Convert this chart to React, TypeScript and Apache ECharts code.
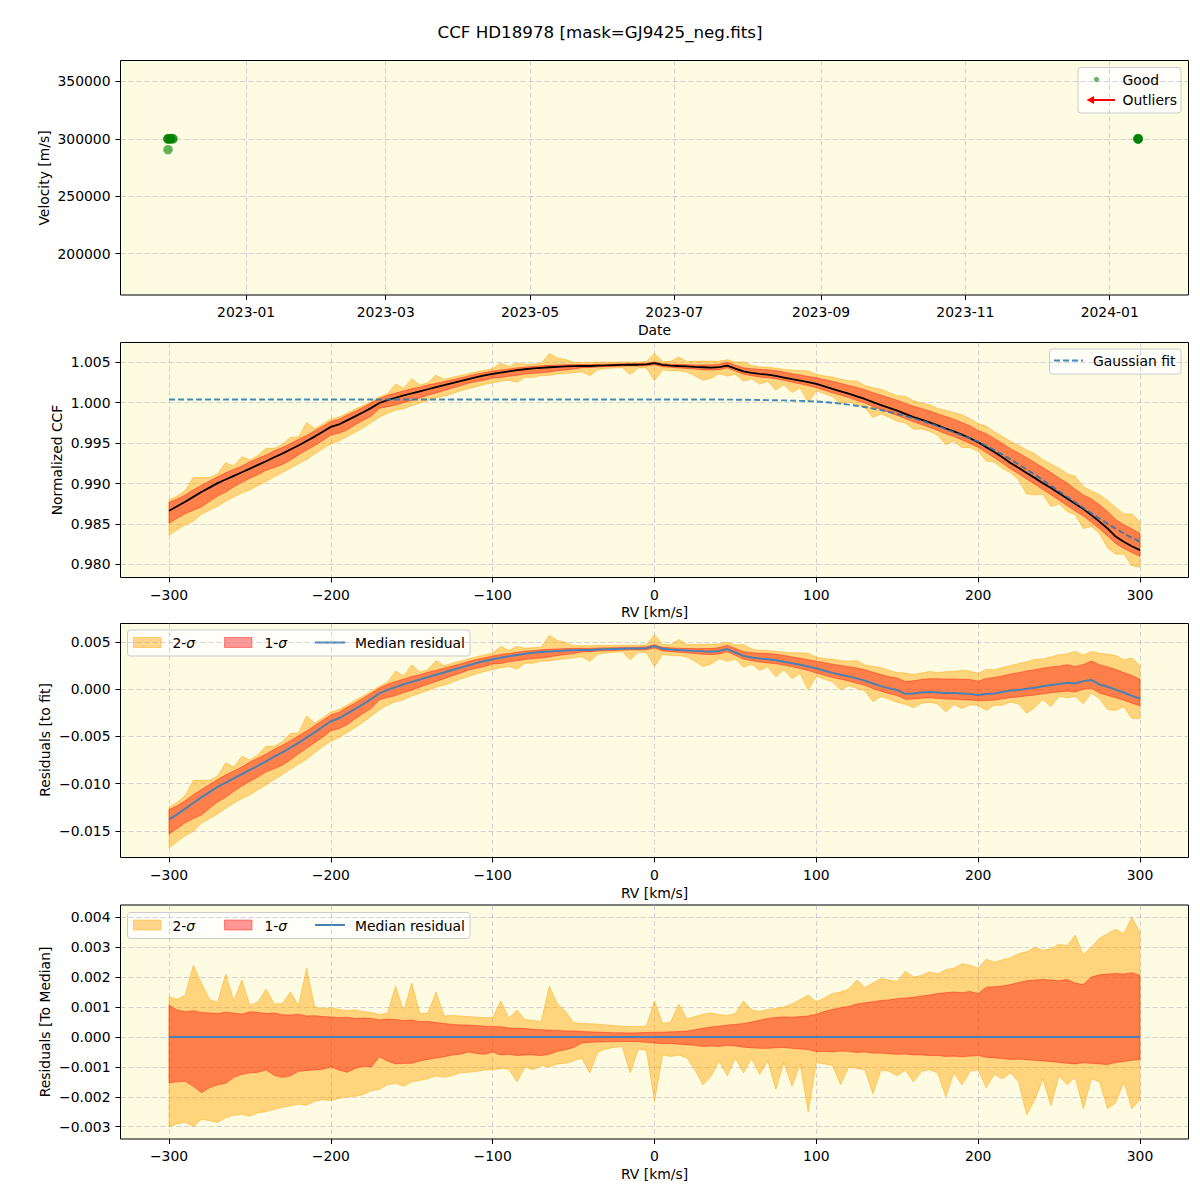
import React, { useEffect, useRef } from 'react';
import * as echarts from 'echarts';

const FONT = "'DejaVu Sans', 'Liberation Sans', sans-serif";
const MINUS = '\u2212';
const FS = 13.9;

// ---------- Panel 1: CCF radial velocities per observation ----------
const goodDates = [
  '2022-11-29', '2022-11-29', '2022-11-29', '2022-11-30', '2022-11-30', '2022-11-30',
  '2022-12-01', '2022-12-01', '2022-11-29',
  '2024-01-13', '2024-01-13', '2024-01-13', '2024-01-13',
];
const goodVelocity = [
  300100, 299800, 300000, 300300, 299900, 300100,
  300200, 299900, 290500,
  300000, 299700, 300200, 300100,
];
const dateTickLabels = ['2023-01', '2023-03', '2023-05', '2023-07', '2023-09', '2023-11', '2024-01'];
const velocityTicks = [200000, 250000, 300000, 350000];

// ---------- Panels 2-4: CCF profile versus RV ----------
const rvTicks = [-300, -200, -100, 0, 100, 200, 300];
const ccfTicks = [0.98, 0.985, 0.99, 0.995, 1.0, 1.005];
const fitResTicks = [-0.015, -0.01, -0.005, 0.0, 0.005];
const medResTicks = [-0.003, -0.002, -0.001, 0.0, 0.001, 0.002, 0.003, 0.004];

// RV sampling [km/s]
const rv = [
  -300, -295, -290, -285, -280, -275, -270, -265, -260, -255,
  -250, -245, -240, -235, -230, -225, -220, -215, -210, -205,
  -200, -195, -190, -185, -180, -175, -170, -165, -160, -155,
  -150, -145, -140, -135, -130, -125, -120, -115, -110, -105,
  -100, -95, -90, -85, -80, -75, -70, -65, -60, -55,
  -50, -45, -40, -35, -30, -25, -20, -15, -10, -5,
  0, 5, 10, 15, 20, 25, 30, 35, 40, 45,
  50, 55, 60, 65, 70, 75, 80, 85, 90, 95,
  100, 105, 110, 115, 120, 125, 130, 135, 140, 145,
  150, 155, 160, 165, 170, 175, 180, 185, 190, 195,
  200, 205, 210, 215, 220, 225, 230, 235, 240, 245,
  250, 255, 260, 265, 270, 275, 280, 285, 290, 295,
  300,
];

// median normalized CCF
const ccfMedian = [
  0.98663, 0.9872, 0.98775, 0.98835, 0.98895, 0.9895, 0.99005, 0.9905, 0.99095, 0.9914,
  0.99185, 0.9923, 0.99275, 0.99325, 0.9937, 0.9942, 0.9947, 0.99525, 0.9958, 0.9964,
  0.997, 0.9973, 0.9978, 0.9983, 0.9988, 0.99935, 0.99995, 1.0003, 1.0006, 1.0009,
  1.00115, 1.0014, 1.00165, 1.0019, 1.00215, 1.0024, 1.00265, 1.0029, 1.00315, 1.00335,
  1.00355, 1.0037, 1.00385, 1.004, 1.00412, 1.00422, 1.0043, 1.00437, 1.00442, 1.00447,
  1.0045, 1.00452, 1.00452, 1.00458, 1.0046, 1.00463, 1.00466, 1.00468, 1.00468, 1.00472,
  1.00487, 1.00465, 1.00458, 1.00452, 1.00448, 1.00442, 1.00437, 1.00432, 1.00438, 1.00458,
  1.0042, 1.00385, 1.00368, 1.00355, 1.00345, 1.0033, 1.0031, 1.0029, 1.00272, 1.00252,
  1.00231, 1.002, 1.0017, 1.0014, 1.0011, 1.00078, 1.00045, 1.00005, 0.9997, 0.99935,
  0.999, 0.9986, 0.99822, 0.9979, 0.99755, 0.99718, 0.9968, 0.99645, 0.99605, 0.9956,
  0.99509, 0.9945, 0.9939, 0.99325, 0.99255, 0.99195, 0.9913, 0.9907, 0.99005, 0.98945,
  0.9888, 0.98815, 0.9875, 0.98684, 0.9861, 0.9853, 0.98445, 0.98345, 0.9828, 0.98225,
  0.98177,
];

// Gaussian fit to the median CCF
const gaussFit = [
  1.00038, 1.00038, 1.00038, 1.00038, 1.00038, 1.00038, 1.00038, 1.00038, 1.00038, 1.00038,
  1.00038, 1.00038, 1.00038, 1.00038, 1.00038, 1.00038, 1.00038, 1.00038, 1.00038, 1.00038,
  1.00038, 1.00038, 1.00038, 1.00038, 1.00038, 1.00038, 1.00038, 1.00038, 1.00038, 1.00038,
  1.00038, 1.00038, 1.00038, 1.00038, 1.00038, 1.00038, 1.00038, 1.00038, 1.00038, 1.00038,
  1.00038, 1.00038, 1.00038, 1.00038, 1.00038, 1.00038, 1.00038, 1.00038, 1.00038, 1.00038,
  1.00038, 1.00038, 1.00038, 1.00038, 1.00038, 1.00038, 1.00038, 1.00038, 1.00038, 1.00038,
  1.00038, 1.00038, 1.00038, 1.00038, 1.00038, 1.00038, 1.00038, 1.00038, 1.00038, 1.00037,
  1.00036, 1.00035, 1.00034, 1.00033, 1.00031, 1.00029, 1.00027, 1.00024, 1.00021, 1.00018,
  1.00014, 1.00007, 0.99998, 0.99987, 0.99975, 0.99961, 0.99945, 0.99927, 0.99907, 0.99885,
  0.9986, 0.99834, 0.99806, 0.99776, 0.99744, 0.9971, 0.99673, 0.99635, 0.99596, 0.99557,
  0.99517, 0.99467, 0.99413, 0.99357, 0.99298, 0.99237, 0.99174, 0.99109, 0.99042, 0.98974,
  0.98905, 0.98836, 0.98767, 0.98699, 0.98632, 0.98567, 0.98504, 0.98443, 0.98385, 0.9833,
  0.9828,
];

// median residual to the fit
const residMedian = [
  -0.0138, -0.01325, -0.01265, -0.01205, -0.01145, -0.0109, -0.01035, -0.0099, -0.00945, -0.009,
  -0.00855, -0.0081, -0.00765, -0.00715, -0.00668, -0.00618, -0.00568, -0.00513, -0.00458, -0.00398,
  -0.0034, -0.00308, -0.00258, -0.00208, -0.00158, -0.00103, -0.00045, -0.00008, 0.00022, 0.00052,
  0.00077, 0.00102, 0.00127, 0.00152, 0.00177, 0.00202, 0.00227, 0.00252, 0.00277, 0.00297,
  0.00317, 0.00332, 0.00347, 0.00362, 0.00374, 0.00384, 0.00392, 0.00399, 0.00404, 0.00409,
  0.00412, 0.00414, 0.00414, 0.0042, 0.00422, 0.00425, 0.00428, 0.0043, 0.0043, 0.00434,
  0.00455, 0.00427, 0.0042, 0.00415, 0.0041, 0.00405, 0.004, 0.00396, 0.00404, 0.00424,
  0.00388, 0.00352, 0.00336, 0.00325, 0.00316, 0.00305, 0.0029, 0.00275, 0.00258, 0.0024,
  0.0022, 0.00195, 0.00172, 0.00153, 0.00135, 0.00114, 0.0009, 0.0006, 0.00032, 0.00008,
  -0.0001, -0.0005, -0.00045, -0.00035, -0.0003, -0.00035, -0.0004, -0.00042, -0.00045, -0.0005,
  -0.00062, -0.00052, -0.00045, -0.0003, -0.00015, -0.00008, 0.00005, 0.00015, 0.0003, 0.00045,
  0.00055, 0.00067, 0.0006, 0.00085, 0.00098, 0.0005, 0.00025, -0.00005, -0.00035, -0.0007,
  -0.001,
];

// spread of the individual CCFs around the median
const sig1Upper = [
  0.00106, 0.0009, 0.00084, 0.00088, 0.00082, 0.0008, 0.00078, 0.00083, 0.0008, 0.00076,
  0.00084, 0.00082, 0.00078, 0.0008, 0.00074, 0.00073, 0.00076, 0.0007, 0.00071, 0.00068,
  0.00067, 0.00064, 0.00066, 0.00062, 0.00063, 0.00062, 0.00057, 0.0006, 0.00058, 0.00055,
  0.00057, 0.00051, 0.00052, 0.00048, 0.00045, 0.00042, 0.0004, 0.0004, 0.00038, 0.00036,
  0.00035, 0.00034, 0.0003, 0.00029, 0.00028, 0.00025, 0.00024, 0.00023, 0.00022, 0.0002,
  0.0002, 0.00018, 0.00017, 0.00016, 0.00015, 0.00014, 0.00014, 0.00013, 0.00014, 0.00015,
  0.00016, 0.00016, 0.00017, 0.00018, 0.0002, 0.00024, 0.00029, 0.00033, 0.00036, 0.0004,
  0.00042, 0.00045, 0.0005, 0.00056, 0.00062, 0.00065, 0.00067, 0.00066, 0.00068, 0.0007,
  0.00076, 0.00085, 0.00092, 0.00098, 0.00102, 0.0011, 0.00114, 0.00118, 0.00122, 0.00124,
  0.00128, 0.0013, 0.00133, 0.00137, 0.0014, 0.00145, 0.00148, 0.0015, 0.00148, 0.00152,
  0.00145, 0.00166, 0.00168, 0.0017, 0.00175, 0.00182, 0.00188, 0.0019, 0.00192, 0.0019,
  0.00188, 0.00192, 0.0018, 0.00175, 0.002, 0.00208, 0.0021, 0.00212, 0.0021, 0.00215,
  0.00205,
];
const sig1Lower = [
  -0.00153, -0.0015, -0.00148, -0.00165, -0.00186, -0.0017, -0.0016, -0.00155, -0.00135, -0.00125,
  -0.0012, -0.00118, -0.0011, -0.00128, -0.00135, -0.0013, -0.00115, -0.00112, -0.0011, -0.00108,
  -0.001, -0.0011, -0.00118, -0.00105, -0.00098, -0.001, -0.00066, -0.0008, -0.0009, -0.00088,
  -0.00088, -0.0008, -0.00075, -0.0007, -0.00066, -0.0006, -0.00058, -0.0005, -0.00055, -0.00058,
  -0.0005, -0.0006, -0.00058, -0.00062, -0.0006, -0.0006, -0.00062, -0.00058, -0.00048, -0.00043,
  -0.00035, -0.0002, -0.00018, -0.00017, -0.00016, -0.00016, -0.00015, -0.00015, -0.00016, -0.00018,
  -0.0002, -0.00022, -0.00022, -0.00024, -0.00026, -0.00028, -0.00032, -0.0003, -0.00032, -0.00028,
  -0.0003, -0.00034, -0.00036, -0.00038, -0.00038, -0.00036, -0.00035, -0.00038, -0.0004, -0.00042,
  -0.00049, -0.00048, -0.0005, -0.00047, -0.00048, -0.00052, -0.0005, -0.00054, -0.00054, -0.00056,
  -0.00058, -0.00057, -0.0006, -0.0006, -0.00062, -0.00062, -0.00065, -0.00064, -0.00066, -0.00064,
  -0.00062, -0.00068, -0.0007, -0.00072, -0.00075, -0.00074, -0.00076, -0.00078, -0.0008, -0.00082,
  -0.00085, -0.00088, -0.0009, -0.00086, -0.00088, -0.0009, -0.00092, -0.00085, -0.00082, -0.00078,
  -0.00075,
];
const sig2Upper = [
  0.00134, 0.00125, 0.0014, 0.0024, 0.0018, 0.00125, 0.00115, 0.0021, 0.0012, 0.0019,
  0.00105, 0.00118, 0.0016, 0.0011, 0.00112, 0.0015, 0.00105, 0.0023, 0.001, 0.00095,
  0.00098, 0.00092, 0.00088, 0.0009, 0.00085, 0.00082, 0.00075, 0.0008, 0.0017, 0.00085,
  0.0018, 0.00078, 0.0008, 0.0015, 0.0007, 0.00072, 0.0007, 0.00068, 0.00066, 0.00064,
  0.00065, 0.0012, 0.00062, 0.0009, 0.00058, 0.00055, 0.00052, 0.0017, 0.0011, 0.00085,
  0.00048, 0.00045, 0.00044, 0.00043, 0.0004, 0.00038, 0.00036, 0.00035, 0.00035, 0.00036,
  0.0012, 0.00045, 0.0005, 0.0011, 0.0006, 0.00068, 0.00076, 0.0008, 0.00074, 0.00072,
  0.00078, 0.0012, 0.0009, 0.00085, 0.00092, 0.00095, 0.001, 0.0011, 0.00125, 0.0014,
  0.00118, 0.0013, 0.00145, 0.0015, 0.0016, 0.0019, 0.00165, 0.0018, 0.00195, 0.0019,
  0.00185, 0.0022, 0.002, 0.00205, 0.00218, 0.0021, 0.00225, 0.0023, 0.00245, 0.0024,
  0.0023, 0.0026, 0.0025, 0.00258, 0.00265, 0.00278, 0.00285, 0.003, 0.0029, 0.00295,
  0.0031, 0.00305, 0.0034, 0.00275, 0.003, 0.0033, 0.00345, 0.0036, 0.00345, 0.004,
  0.0035,
];
const sig2Lower = [
  -0.003, -0.0029, -0.00285, -0.003, -0.00275, -0.0028, -0.00286, -0.0027, -0.00262, -0.00258,
  -0.00265, -0.00253, -0.0025, -0.00242, -0.00235, -0.0023, -0.00225, -0.00228, -0.00215, -0.0021,
  -0.00212, -0.00205, -0.002, -0.00198, -0.00192, -0.0018, -0.00175, -0.0016, -0.00155, -0.00165,
  -0.0015, -0.00145, -0.0014, -0.0013, -0.00135, -0.0013, -0.0012, -0.00118, -0.00115, -0.0011,
  -0.0011, -0.00105, -0.00108, -0.0015, -0.001, -0.0011, -0.00095, -0.001, -0.0009, -0.00088,
  -0.0008, -0.0007, -0.0012, -0.0005, -0.0004, -0.00035, -0.00032, -0.0012, -0.0004, -0.00045,
  -0.00215, -0.0006, -0.00065, -0.0006, -0.0007, -0.0011, -0.0016, -0.0013, -0.0008, -0.0013,
  -0.0007, -0.0012, -0.00072, -0.00125, -0.0008, -0.00175, -0.00085, -0.00165, -0.0009, -0.0025,
  -0.00085, -0.0009, -0.00095, -0.0016, -0.001, -0.00105, -0.0011, -0.0019, -0.0011, -0.00115,
  -0.0013, -0.0011, -0.0015, -0.00115, -0.0011, -0.0012, -0.002, -0.0012, -0.0016, -0.00115,
  -0.0011, -0.0017, -0.00125, -0.0014, -0.0012, -0.0015, -0.0026, -0.0021, -0.0014, -0.0023,
  -0.0013, -0.0016, -0.00135, -0.0024, -0.0014, -0.0015, -0.0024, -0.0022, -0.0015, -0.0024,
  -0.0021,
];

// ---------- styling ----------
const BG = '#fdfbe2';
const GRID_LINE = 'rgba(165,165,185,0.55)';
const ORANGE_FILL = 'rgba(255,165,0,0.45)';
const RED_FILL = 'rgba(255,0,0,0.4)';
const STEEL = '#4682b4';
const FIT_BLUE = 'rgba(31,119,180,0.85)';

const LEFT = 120.5;
const WIDTH = 1068;
const PANELS = [
  { top: 60.5, height: 234.5 },
  { top: 342.5, height: 235 },
  { top: 623.5, height: 234 },
  { top: 905, height: 234 },
];
const CENTER_X = LEFT + WIDTH / 2;

const DAY_MS = 86400000;
const EPOCH = Date.UTC(2023, 0, 1);
const toDay = (s: string) => (Date.parse(s) - EPOCH) / DAY_MS;
const tickDays = dateTickLabels.map((l) => toDay(l + '-01'));

const signed = (s: string) => s.replace('-', MINUS);
const tickIndex = (v: number, ticks: number[], tol: number) =>
  ticks.findIndex((t) => Math.abs(t - v) < tol);

function axisCommon(ticks: number[], formatter: (v: number) => string) {
  return {
    axisLine: { show: false, onZero: false },
    axisTick: {
      show: true,
      length: 5,
      customValues: ticks,
      lineStyle: { color: '#000', width: 1 },
    },
    axisLabel: {
      show: true,
      customValues: ticks,
      margin: 10,
      color: '#000',
      fontFamily: FONT,
      fontSize: FS,
      formatter,
    },
    splitLine: {
      show: true,
      lineStyle: { color: GRID_LINE, width: 0.9, type: [5, 3] },
    },
  };
}

function band(
  panel: number,
  center: number[],
  lowOff: number[],
  highOff: number[],
  color: string,
) {
  const lo = center.map((c, i) => c + lowOff[i]);
  const hi = center.map((c, i) => c + highOff[i]);
  return {
    type: 'custom',
    xAxisIndex: panel,
    yAxisIndex: panel,
    silent: true,
    clip: true,
    data: rv.map((x, i) => [x, lo[i], hi[i]]),
    encode: { x: 0, y: [1, 2] },
    renderItem: (params: any, api: any) => {
      if (params.dataIndex !== 0) return null;
      const pts: number[][] = [];
      for (let i = 0; i < rv.length; i++) pts.push(api.coord([rv[i], hi[i]]));
      for (let i = rv.length - 1; i >= 0; i--) pts.push(api.coord([rv[i], lo[i]]));
      return {
        type: 'polygon',
        shape: { points: pts },
        style: { fill: color, stroke: color, lineWidth: 1 },
      };
    },
  };
}

function lineSeries(panel: number, ys: number[], style: any) {
  return {
    type: 'line',
    xAxisIndex: panel,
    yAxisIndex: panel,
    data: rv.map((x, i) => [x, ys[i]]),
    showSymbol: false,
    symbol: 'none',
    silent: true,
    lineStyle: style,
  };
}

function txt(text: string, x: number, y: number, opts: any = {}) {
  const align = opts.align || 'left';
  return {
    type: 'text',
    x,
    y,
    rotation: opts.rotation || 0,
    z: 100,
    style: {
      text,
      x: 0,
      y: 0,
      fill: '#000',
      fontFamily: FONT,
      fontSize: opts.fontSize || FS,
      align,
      textAlign: align,
      verticalAlign: 'middle',
      textVerticalAlign: 'middle',
      rich: opts.rich,
    },
  };
}

const sigmaRich = {
  it: { fontStyle: 'italic', fontFamily: FONT, fontSize: FS, fill: '#000' },
};

function residualLegend(y0: number) {
  return {
    type: 'group',
    z: 100,
    children: [
      {
        type: 'rect',
        shape: { x: 127.5, y: y0, width: 342.5, height: 26, r: 3 },
        style: { fill: 'rgba(255,255,255,0.8)', stroke: '#cccccc', lineWidth: 1 },
      },
      {
        type: 'rect',
        shape: { x: 133.5, y: y0 + 7.5, width: 27.5, height: 10 },
        style: { fill: ORANGE_FILL, stroke: ORANGE_FILL, lineWidth: 1 },
      },
      txt('2-{it|σ}', 172.5, y0 + 13, { rich: sigmaRich }),
      {
        type: 'rect',
        shape: { x: 224.5, y: y0 + 7.5, width: 27.5, height: 10 },
        style: { fill: RED_FILL, stroke: RED_FILL, lineWidth: 1 },
      },
      txt('1-{it|σ}', 264.5, y0 + 13, { rich: sigmaRich }),
      {
        type: 'line',
        shape: { x1: 315, y1: y0 + 12.5, x2: 345, y2: y0 + 12.5 },
        style: { stroke: STEEL, lineWidth: 2 },
      },
      txt('Median residual', 355, y0 + 13),
    ],
  };
}

function buildOption() {
  const xRv = (i: number) => ({
    type: 'value',
    gridIndex: i,
    min: -330,
    max: 330,
    ...axisCommon(rvTicks, (v: number) =>
      tickIndex(v, rvTicks, 1e-6) >= 0 ? signed(String(Math.round(v))) : '',
    ),
  });

  const yFmt = (ticks: number[]) => (v: number) => {
    const k = tickIndex(v, ticks, 1e-7);
    return k >= 0 ? signed(ticks[k].toFixed(3)) : '';
  };

  const zero = rv.map(() => 0); // the median measured against itself

  return {
    animation: false,
    backgroundColor: '#ffffff',
    grid: PANELS.map((p) => ({
      left: LEFT,
      top: p.top,
      width: WIDTH,
      height: p.height,
      show: true,
      backgroundColor: BG,
      borderColor: '#000',
      borderWidth: 1,
      containLabel: false,
    })),
    xAxis: [
      {
        type: 'value',
        gridIndex: 0,
        min: -53.1,
        max: 398.3,
        ...axisCommon(tickDays, (v: number) => {
          const k = tickIndex(v, tickDays, 0.5);
          return k >= 0 ? dateTickLabels[k] : '';
        }),
      },
      xRv(1),
      xRv(2),
      xRv(3),
    ],
    yAxis: [
      {
        type: 'value',
        gridIndex: 0,
        min: 163900,
        max: 368250,
        ...axisCommon(velocityTicks, (v: number) => {
          const k = tickIndex(v, velocityTicks, 1);
          return k >= 0 ? String(velocityTicks[k]) : '';
        }),
      },
      { type: 'value', gridIndex: 1, min: 0.978391, max: 1.007426, ...axisCommon(ccfTicks, yFmt(ccfTicks)) },
      { type: 'value', gridIndex: 2, min: -0.017815, max: 0.006947, ...axisCommon(fitResTicks, yFmt(fitResTicks)) },
      { type: 'value', gridIndex: 3, min: -0.00341, max: 0.00441, ...axisCommon(medResTicks, yFmt(medResTicks)) },
    ],
    series: [
      {
        type: 'scatter',
        xAxisIndex: 0,
        yAxisIndex: 0,
        symbol: 'circle',
        symbolSize: 9.5,
        silent: true,
        itemStyle: { color: 'green', opacity: 0.6 },
        data: goodDates.map((d, i) => [toDay(d), goodVelocity[i]]),
      },
      band(1, ccfMedian, sig2Lower, sig2Upper, ORANGE_FILL),
      band(1, ccfMedian, sig1Lower, sig1Upper, RED_FILL),
      lineSeries(1, ccfMedian, { color: '#000', width: 1.8 }),
      lineSeries(1, gaussFit, { color: FIT_BLUE, width: 1.9, type: [6, 3] }),
      band(2, residMedian, sig2Lower, sig2Upper, ORANGE_FILL),
      band(2, residMedian, sig1Lower, sig1Upper, RED_FILL),
      lineSeries(2, residMedian, { color: STEEL, width: 2 }),
      band(3, zero, sig2Lower, sig2Upper, ORANGE_FILL),
      band(3, zero, sig1Lower, sig1Upper, RED_FILL),
      lineSeries(3, zero, { color: STEEL, width: 2 }),
    ],
    graphic: [
      txt('CCF HD18978 [mask=GJ9425_neg.fits]', 600, 32, { align: 'center', fontSize: 16.7 }),
      txt('Date', CENTER_X, 330, { align: 'center' }),
      txt('RV [km/s]', CENTER_X, 611.5, { align: 'center' }),
      txt('RV [km/s]', CENTER_X, 892.5, { align: 'center' }),
      txt('RV [km/s]', CENTER_X, 1174, { align: 'center' }),
      txt('Velocity [m/s]', 44, 178, { align: 'center', rotation: Math.PI / 2 }),
      txt('Normalized CCF', 57, 460, { align: 'center', rotation: Math.PI / 2 }),
      txt('Residuals [to fit]', 45, 740, { align: 'center', rotation: Math.PI / 2 }),
      txt('Residuals [To Median]', 45, 1022, { align: 'center', rotation: Math.PI / 2 }),
      // panel 1 legend
      {
        type: 'group',
        z: 100,
        children: [
          {
            type: 'rect',
            shape: { x: 1078, y: 67.5, width: 103, height: 45.5, r: 3 },
            style: { fill: 'rgba(255,255,255,0.8)', stroke: '#cccccc', lineWidth: 1 },
          },
          {
            type: 'circle',
            shape: { cx: 1096.5, cy: 79.5, r: 2.6 },
            style: { fill: 'rgba(0,128,0,0.6)' },
          },
          txt('Good', 1122.5, 79.5),
          {
            type: 'line',
            shape: { x1: 1115, y1: 100, x2: 1092, y2: 100 },
            style: { stroke: 'red', lineWidth: 2 },
          },
          {
            type: 'polygon',
            shape: { points: [[1086.5, 100], [1094, 96], [1094, 104]] },
            style: { fill: 'red' },
          },
          txt('Outliers', 1122.5, 100),
        ],
      },
      // panel 2 legend
      {
        type: 'group',
        z: 100,
        children: [
          {
            type: 'rect',
            shape: { x: 1049.5, y: 349, width: 131.5, height: 25, r: 3 },
            style: { fill: 'rgba(255,255,255,0.8)', stroke: '#cccccc', lineWidth: 1 },
          },
          {
            type: 'line',
            shape: { x1: 1054, y1: 360.5, x2: 1083, y2: 360.5 },
            style: { stroke: FIT_BLUE, lineWidth: 1.9, lineDash: [6, 3] },
          },
          txt('Gaussian fit', 1093, 361),
        ],
      },
      residualLegend(630),
      residualLegend(912.5),
    ],
  };
}

export default function App() {
  const ref = useRef<HTMLDivElement>(null);
  useEffect(() => {
    if (!ref.current) return;
    const chart = echarts.init(ref.current, undefined, { renderer: 'svg' });
    chart.setOption(buildOption() as any);
    return () => chart.dispose();
  }, []);
  return (
    <div
      ref={ref}
      style={{ position: 'absolute', left: 0, top: 0, width: 1200, height: 1200, background: '#fff' }}
    />
  );
}
